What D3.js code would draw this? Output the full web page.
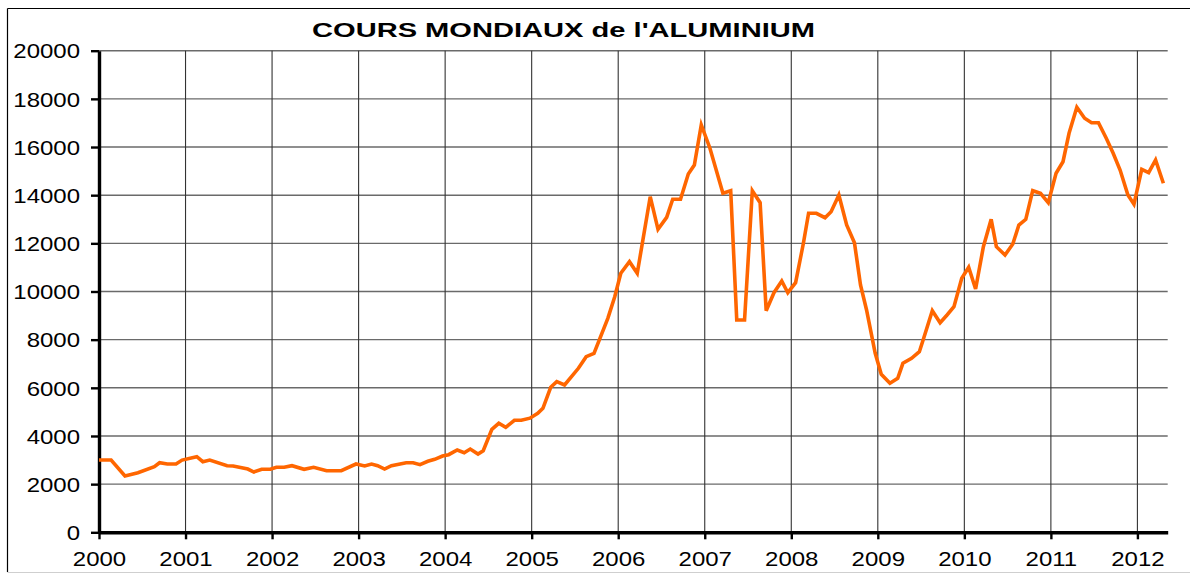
<!DOCTYPE html>
<html>
<head>
<meta charset="utf-8">
<script src="https://cdn.jsdelivr.net/npm/d3@7"></script>
<style>
  html, body { margin: 0; padding: 0; background: #fff; }
  svg { display: block; font-family: "Liberation Sans", Arial, sans-serif; }
</style>
</head>
<body>
<svg id="chart" width="1190" height="574"></svg>
<script>
// ---- data (decimal year, price) ----
const dates = [
  2000.00, 2000.14, 2000.30, 2000.45, 2000.64, 2000.70, 2000.79, 2000.89, 2000.96,
  2001.13, 2001.20, 2001.28, 2001.48, 2001.55, 2001.72, 2001.79, 2001.88, 2001.98,
  2002.05, 2002.14, 2002.23, 2002.37, 2002.48, 2002.63, 2002.80, 2002.97,
  2003.07, 2003.15, 2003.22, 2003.30, 2003.38, 2003.55, 2003.63, 2003.71, 2003.80, 2003.88, 2003.97,
  2004.04, 2004.14, 2004.22, 2004.29, 2004.38, 2004.44, 2004.54, 2004.62, 2004.70, 2004.80, 2004.88, 2004.98,
  2005.07, 2005.13, 2005.22, 2005.29, 2005.38, 2005.54, 2005.63, 2005.72, 2005.88, 2005.96,
  2006.03, 2006.13, 2006.22, 2006.37, 2006.46, 2006.56, 2006.63, 2006.72, 2006.81, 2006.88, 2006.96,
  2007.06, 2007.21, 2007.30, 2007.37, 2007.46, 2007.55, 2007.64, 2007.71, 2007.80, 2007.89, 2007.96,
  2008.05, 2008.14, 2008.20, 2008.29, 2008.39, 2008.46, 2008.55, 2008.64, 2008.73, 2008.80, 2008.87, 2008.97,
  2009.04, 2009.14, 2009.23, 2009.29, 2009.39, 2009.48, 2009.53, 2009.63, 2009.72, 2009.80, 2009.88, 2009.97,
  2010.05, 2010.13, 2010.22, 2010.31, 2010.37, 2010.47, 2010.56, 2010.63, 2010.71, 2010.79, 2010.88, 2010.97,
  2011.06, 2011.14, 2011.21, 2011.30, 2011.39, 2011.47, 2011.55, 2011.64, 2011.72, 2011.80, 2011.89, 2011.96,
  2012.05, 2012.13, 2012.21, 2012.30
];
const prices = [
  3000, 3000, 2340, 2475, 2725, 2890, 2836, 2836, 3000,
  3140, 2932, 3000, 2766, 2753, 2628, 2504, 2616, 2616,
  2699, 2699, 2766, 2616, 2699, 2558, 2558, 2836,
  2753, 2836, 2766, 2628, 2766, 2890, 2890, 2807, 2948, 3031, 3168,
  3223, 3418, 3306, 3459, 3252, 3389, 4277, 4527, 4360, 4651, 4651, 4740,
  4940, 5150, 6022, 6255, 6117, 6811, 7292, 7434, 8887, 9784,
  10756, 11238, 10756, 13937, 12583, 13081, 13829, 13829, 14880, 15253, 16915,
  15950, 14078, 14186, 8817, 8817, 14186, 13688, 9203, 9950, 10436, 9950,
  10365, 12002, 13247, 13247, 13065, 13314, 14007, 12762, 12027, 10270, 9232, 7434,
  6560, 6188, 6395, 7018, 7226, 7500, 8056, 9203, 8704, 9024, 9369, 10548,
  11005, 10104, 11861, 12998, 11861, 11516, 11973, 12762, 12998, 14186, 14078, 13688,
  14909, 15390, 16570, 17650, 17193, 17010, 17010, 16362, 15739, 15046, 14007, 13621,
  15075, 14934, 15461, 14494
];
const yearTicks = [2000, 2001, 2002, 2003, 2004, 2005, 2006, 2007, 2008, 2009, 2010, 2011, 2012];
const valueTicks = [0, 2000, 4000, 6000, 8000, 10000, 12000, 14000, 16000, 18000, 20000];
const title = "COURS MONDIAUX de l'ALUMINIUM";

// ---- layout ----
const svg = d3.select("#chart");
const pLeft = 99, pRight = 1167.7, pTop = 50.7, pBottom = 532.3;
const x = d3.scaleLinear().domain([2000, 2012.35]).range([pLeft, pRight]);
const y = d3.scaleLinear().domain([0, 20000]).range([pBottom, pTop]);
const stretch = 1.2;

// outer frame
svg.append("line").attr("x1", 7.5).attr("x2", 7.5).attr("y1", 8.5).attr("y2", 572)
  .attr("stroke", "#000").attr("stroke-width", 1.2);
svg.append("line").attr("x1", 7.5).attr("x2", 1190).attr("y1", 8.5).attr("y2", 8.5)
  .attr("stroke", "#000").attr("stroke-width", 1.2);
svg.append("line").attr("x1", 7.5).attr("x2", 1190).attr("y1", 572.5).attr("y2", 572.5)
  .attr("stroke", "#cfcfcf").attr("stroke-width", 1);

// title
svg.append("text")
  .attr("x", 563.5).attr("y", 37.3)
  .attr("text-anchor", "middle")
  .attr("font-size", 20.5).attr("font-weight", "bold")
  .attr("textLength", 503).attr("lengthAdjust", "spacingAndGlyphs")
  .text(title);

// horizontal grid
svg.append("g").selectAll("line").data(valueTicks.filter(d => d > 0)).join("line")
  .attr("x1", pLeft).attr("x2", pRight)
  .attr("y1", d => y(d)).attr("y2", d => y(d))
  .attr("stroke", "#6a6a6a").attr("stroke-width", 1.4);

// vertical grid
svg.append("g").selectAll("line").data(yearTicks.filter(d => d > 2000)).join("line")
  .attr("x1", d => x(d)).attr("x2", d => x(d))
  .attr("y1", pTop).attr("y2", pBottom)
  .attr("stroke", "#333").attr("stroke-width", 1.1);

// y axis
const yAxis = svg.append("g").attr("transform", `translate(${pLeft},0)`)
  .call(d3.axisLeft(y).tickValues(valueTicks).tickFormat(d3.format("d"))
    .tickSize(8).tickPadding(0).tickSizeOuter(0));
yAxis.select(".domain").attr("stroke", "#000").attr("stroke-width", 3.4);
yAxis.selectAll(".tick line").attr("stroke", "#000").attr("stroke-width", 2.4);
yAxis.selectAll(".tick text")
  .attr("x", -19 / stretch).attr("dy", "0.36em")
  .attr("transform", `scale(${stretch},1)`)
  .attr("font-size", 20).attr("fill", "#000")
  .attr("font-family", "Liberation Sans, Arial, sans-serif");

// x axis
const xAxis = svg.append("g").attr("transform", `translate(0,${pBottom})`)
  .call(d3.axisBottom(x).tickValues(yearTicks).tickFormat(d3.format("d")).tickSize(7).tickSizeOuter(0));
xAxis.select(".domain").attr("stroke", "#000").attr("stroke-width", 3.4);
xAxis.selectAll(".tick line").attr("stroke", "#000").attr("stroke-width", 2.4);
xAxis.selectAll(".tick text")
  .attr("y", 34).attr("dy", 0)
  .attr("transform", `scale(${stretch},1)`)
  .attr("font-size", 20).attr("fill", "#000")
  .attr("font-family", "Liberation Sans, Arial, sans-serif");

// series line
const pts = dates.map((d, i) => [d, prices[i]]);
svg.append("path")
  .datum(pts)
  .attr("fill", "none")
  .attr("stroke", "#ff6600")
  .attr("stroke-width", 3.6)
  .attr("stroke-linejoin", "miter")
  .attr("d", d3.line().x(d => x(d[0])).y(d => y(d[1])));
</script>
</body>
</html>
